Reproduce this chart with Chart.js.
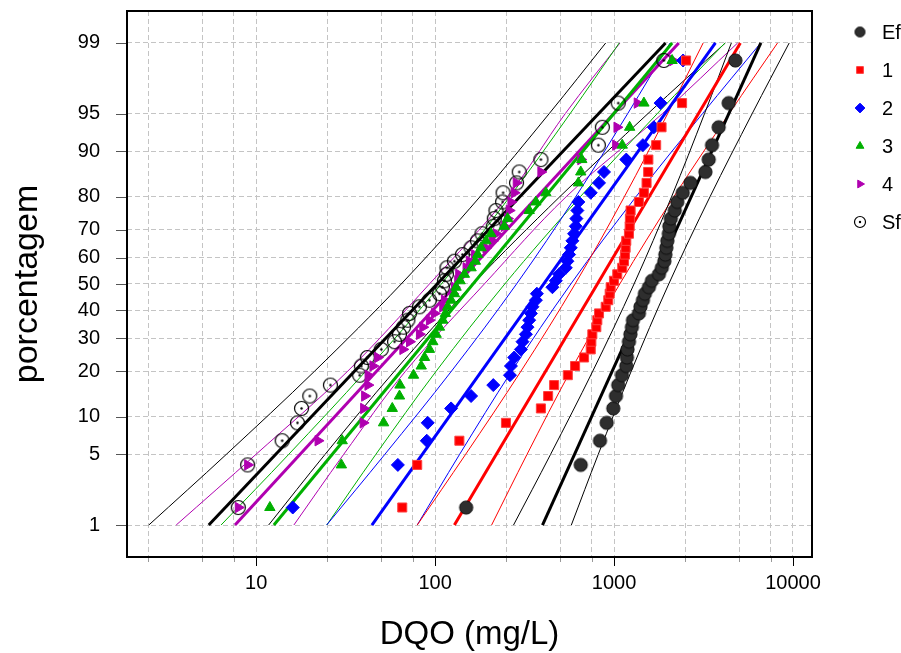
<!DOCTYPE html>
<html>
<head>
<meta charset="utf-8">
<script src="https://cdn.jsdelivr.net/npm/chart.js@4/dist/chart.umd.min.js"></script>
<style>
html,body{margin:0;padding:0;background:#fff;}
#wrap{width:901px;height:653px;}
</style>
</head>
<body>
<div id="wrap"><canvas id="c" width="901" height="653"></canvas></div>
<script>
// ---------------- data ----------------
const percentages = [1.55,4.04,6.52,9.01,11.49,13.98,16.46,18.94,21.43,23.91,26.40,28.88,31.37,33.85,36.34,38.82,41.30,43.79,46.27,48.76,51.24,53.73,56.21,58.70,61.18,63.66,66.15,68.63,71.12,73.60,76.09,78.57,81.06,83.54,86.02,88.51,90.99,93.48,95.96,98.45];

const seriesEf = [149,651,834,909,990,1025,1055,1107,1170,1180,1188,1211,1234,1258,1275,1377,1404,1449,1487,1565,1627,1780,1849,1910,1934,1959,1985,2023,2036,2076,2185,2256,2422,2673,3240,3381,3527,3843,4370,4762];
const series1 = [65.5,79.4,136.6,248.8,389.9,428.1,462.4,551.4,605.5,679.6,740.7,746.4,756.1,795.9,806.2,823.9,898,928.4,945.2,957.2,998.7,1042,1111,1136,1150,1160,1170,1211,1222,1226,1237,1376,1468,1519,1551,1555,1719,1842,2399,2526];
const series2 = [16.0,61.9,89.8,90.9,122.8,158.8,211.3,261.9,265.2,276.7,301.6,307.8,321.5,328.2,335.4,342.8,349.9,365.6,370.4,452.3,472.5,493.0,537.4,548.5,560.6,573.0,584.8,597.7,610.9,615.6,623.6,631.5,740.7,823.9,878.6,1170,1449,1669,1819,2431];
const series3 = [11.92,29.92,30.23,51.5,57.6,63.2,63.6,75.7,83.6,87.2,92.9,97.0,101.3,105.7,110.3,114.1,117.5,122.8,128.1,130.9,137.9,145.7,158.8,167.8,172.8,180.5,192.4,205.2,243.4,253.9,335.4,365.6,415.7,631.5,651.3,659.8,1111,1222,1468,2110];
const series4 = [7.94,8.96,22.16,39.58,39.84,40.36,42.11,42.2,44.9,47.7,66.0,71.9,81.7,85.3,92.9,99.1,110.3,112.7,125.4,128.1,133.7,135.4,148.9,155.3,165.6,192.4,209.4,218.8,243.4,253.9,259.5,265.2,276.7,283.9,389.9,651.3,1021,1038,1347,2130];
const seriesSf = [7.94,8.96,13.96,17.01,17.91,19.92,25.98,37.84,38.68,41.78,50.0,59.3,63.2,66.6,70.4,71.9,81.7,92.9,105.7,109.8,112.7,115.6,116.4,128.1,142.0,158.8,172.2,182.8,211.3,214.1,218.8,238.2,239.7,285.0,295.1,389.9,816.6,859.6,1055,1897];

// fitted lines (value at 1 % and 99 %)
const fitPercent = [1, 99];
const fitEf = [398, 6614];
const fit1 = [128.1, 5078];
const fit2 = [44.3, 3685];
const fit3 = [12.55, 2111];
const fit4 = [7.61, 2300];
const fitSf = [5.43, 1940];

// confidence bands
const bandPercent = [1, 5, 20, 50, 80, 95, 99];
const bandEfLow  = [274.2, 441.5, 759.9, 1293, 2095, 3204, 4523];
const bandEfHigh = [577, 815.6, 1247, 2021, 3437, 5916, 9524];
const band1Low   = [79.4, 147.9, 301.6, 605.5, 1141, 1994, 3147];
const band1High  = [206.8, 326.1, 570.1, 1076, 2157, 4398, 8197];
const band2Low   = [24.75, 52.3, 123.3, 285.0, 610.1, 1192, 2057];
const band2High  = [79.4, 136.9, 267.6, 573.0, 1325, 3122, 6598];
const band3Low   = [6.36, 15.18, 40.93, 108.3, 261.5, 568.5, 1069];
const band3High  = [24.78, 46.6, 101.3, 245.0, 647.1, 1745, 4167];
const band4Low   = [3.57, 9.96, 32.44, 92.9, 252.9, 533.9, 1079];
const band4High  = [16.23, 30.8, 68.3, 188.3, 539.5, 1863, 4904];
const bandSfLow  = [2.51, 6.80, 21.19, 64.6, 178.0, 434.2, 898];
const bandSfHigh = [11.73, 24.24, 59.2, 162.8, 496.9, 1547, 4189];

const yTickValues = [1,5,10,20,30,40,50,60,70,80,90,95,99];
const xGridValues = [2.5,5,7.5,10,25,50,75,100,250,500,750,1000,2500,5000,7500,10000];
const xLabelValues = [10,100,1000,10000];
const legendNames = ['Ef','1','2','3','4','Sf'];

// ---------------- probability (normal) scale ----------------
function probit(p){
  const a=[-3.969683028665376e+01,2.209460984245205e+02,-2.759285104469687e+02,1.383577518672690e+02,-3.066479806614716e+01,2.506628277386502e+00];
  const b=[-5.447609879822406e+01,1.615858368580409e+02,-1.556989798598866e+02,6.680131188771972e+01,-1.328068155288572e+01];
  const c=[-7.784894002430293e-03,-3.223964580411365e-01,-2.400758277161838e+00,-2.549732539343734e+00,4.374664141464968e+00,2.938163982698783e+00];
  const d=[7.784695709041462e-03,3.224671290700398e-01,2.445134137142996e+00,3.754408661907416e+00];
  const pl=0.02425, ph=1-pl; let q,r;
  if(p<=0) return -8; if(p>=1) return 8;
  if(p<pl){q=Math.sqrt(-2*Math.log(p));return (((((c[0]*q+c[1])*q+c[2])*q+c[3])*q+c[4])*q+c[5])/((((d[0]*q+d[1])*q+d[2])*q+d[3])*q+1);}
  if(p<=ph){q=p-0.5;r=q*q;return (((((a[0]*r+a[1])*r+a[2])*r+a[3])*r+a[4])*r+a[5])*q/(((((b[0]*r+b[1])*r+b[2])*r+b[3])*r+b[4])*r+1);}
  q=Math.sqrt(-2*Math.log(1-p));return -(((((c[0]*q+c[1])*q+c[2])*q+c[3])*q+c[4])*q+c[5])/((((d[0]*q+d[1])*q+d[2])*q+d[3])*q+1);
}
function ncdf(z){
  const t=1/(1+0.3275911*Math.abs(z)/Math.SQRT2);
  const y=1-(((((1.061405429*t-1.453152027)*t)+1.421413741)*t-0.284496736)*t+0.254829592)*t*Math.exp(-z*z/2);
  return 0.5*(1+(z>=0?y:-y));
}
class ProbitScale extends Chart.LinearScale {
  configure(){
    super.configure();
    this._z0 = probit(this.min/100);
    this._z1 = probit(this.max/100);
  }
  getPixelForValue(v){
    return this.getPixelForDecimal((probit(v/100)-this._z0)/(this._z1-this._z0));
  }
  getValueForPixel(px){
    const dec=this.getDecimalForPixel(px);
    return 100*ncdf(this._z0+dec*(this._z1-this._z0));
  }
  buildTicks(){
    return (this.options.tickValues||[]).map(v=>({value:v}));
  }
}
ProbitScale.id='probit';
ProbitScale.defaults={ticks:{callback:(v)=>String(v)}};
Chart.register(ProbitScale);

// ---------------- markers ----------------
function makeCanvas(size, draw){
  const cv=document.createElement('canvas'); cv.width=size; cv.height=size;
  const g=cv.getContext('2d'); draw(g,size/2); return cv;
}
function efMarker(r){
  return makeCanvas(Math.ceil(r*2+3),(g,c)=>{
    g.beginPath(); g.arc(c,c,r,0,Math.PI*2); g.fillStyle='#2e2e2e'; g.fill();
    g.lineWidth=1; g.strokeStyle='#111'; g.stroke();
  });
}
function sfMarker(r){
  return makeCanvas(Math.ceil(r*2+3),(g,c)=>{
    g.beginPath(); g.arc(c,c,r,0,Math.PI*2); g.lineWidth=1.2; g.strokeStyle='#000'; g.stroke();
    g.beginPath(); g.arc(c,c,1.2,0,Math.PI*2); g.fillStyle='#000'; g.fill();
  });
}
const EF_PT=efMarker(6.6), SF_PT=sfMarker(7);

const COLORS={Ef:'#000000',s1:'#ff0000',s2:'#0000ff',s3:'#00b000',s4:'#b000b0',Sf:'#000000'};

function pts(xs, ps){ return ps.map((p,i)=>({x:xs[i], y:p})); }

const pointSets=[
  {label:'Ef', data:pts(seriesEf,percentages), pointStyle:EF_PT, pointRadius:6, backgroundColor:'#333', borderColor:'#111'},
  {label:'1', data:pts(series1,percentages), pointStyle:'rect', pointRadius:6.4, backgroundColor:'#ff0000', borderColor:'#ff4040', borderWidth:1},
  {label:'2', data:pts(series2,percentages), pointStyle:'rectRot', pointRadius:6.5, backgroundColor:'#0000ff', borderColor:'#0000ff', borderWidth:1},
  {label:'3', data:pts(series3,percentages), pointStyle:'triangle', pointRadius:6, backgroundColor:'#00b000', borderColor:'#00b000', borderWidth:1},
  {label:'4', data:pts(series4,percentages), pointStyle:'triangle', rotation:90, pointRadius:6, backgroundColor:'#b000b0', borderColor:'#b000b0', borderWidth:1},
  {label:'Sf', data:pts(seriesSf,percentages), pointStyle:SF_PT, pointRadius:7, backgroundColor:'#fff', borderColor:'#000'}
].map(d=>Object.assign({showLine:false, order:0, pointHoverRadius:d.pointRadius}, d));

function lineSet(label, xs, ps, color, width, tension){
  return {label, data:pts(xs,ps), showLine:true, pointRadius:0, pointHoverRadius:0, borderColor:color, backgroundColor:color, borderWidth:width, tension:tension, fill:false, order:1};
}
const lineSets=[
  lineSet('fitEf',fitEf,fitPercent,COLORS.Ef,3,0),
  lineSet('fit1',fit1,fitPercent,COLORS.s1,3,0),
  lineSet('fit2',fit2,fitPercent,COLORS.s2,3,0),
  lineSet('fit3',fit3,fitPercent,COLORS.s3,3,0),
  lineSet('fit4',fit4,fitPercent,COLORS.s4,3,0),
  lineSet('fitSf',fitSf,fitPercent,COLORS.Sf,3,0),
  lineSet('bEfL',bandEfLow,bandPercent,COLORS.Ef,1,0.35),
  lineSet('bEfH',bandEfHigh,bandPercent,COLORS.Ef,1,0.35),
  lineSet('b1L',band1Low,bandPercent,COLORS.s1,1,0.35),
  lineSet('b1H',band1High,bandPercent,COLORS.s1,1,0.35),
  lineSet('b2L',band2Low,bandPercent,COLORS.s2,1,0.35),
  lineSet('b2H',band2High,bandPercent,COLORS.s2,1,0.35),
  lineSet('b3L',band3Low,bandPercent,COLORS.s3,1,0.35),
  lineSet('b3H',band3High,bandPercent,COLORS.s3,1,0.35),
  lineSet('b4L',band4Low,bandPercent,COLORS.s4,1,0.35),
  lineSet('b4H',band4High,bandPercent,COLORS.s4,1,0.35),
  lineSet('bSfL',bandSfLow,bandPercent,COLORS.Sf,1,0.35),
  lineSet('bSfH',bandSfHigh,bandPercent,COLORS.Sf,1,0.35)
];

const FONT="'Liberation Sans', Arial, Helvetica, sans-serif";

// frame, axis ticks and legend
const decorPlugin={
  id:'decor',
  afterDatasetsDraw(chart){
    const {ctx, chartArea:a, scales:{x,y}}=chart;
    ctx.save();
    ctx.lineWidth=1;
    xGridValues.forEach(v=>{
      const px=Math.round(x.getPixelForValue(v))+0.5;
      const major=xLabelValues.includes(v);
      ctx.strokeStyle=major?'#000':'#999';
      ctx.beginPath(); ctx.moveTo(px,a.bottom); ctx.lineTo(px,a.bottom+(major?9:5)); ctx.stroke();
    });
    yTickValues.forEach(v=>{
      const py=Math.round(y.getPixelForValue(v))+0.5;
      ctx.strokeStyle='#555';
      ctx.beginPath(); ctx.moveTo(a.left-11,py); ctx.lineTo(a.left,py); ctx.stroke();
    });
    ctx.strokeStyle='#000'; ctx.lineWidth=2;
    ctx.strokeRect(a.left,a.top,a.right-a.left,a.bottom-a.top);
    ctx.restore();
  },
  afterDraw(chart){
    const ctx=chart.ctx;
    ctx.save();
    const ys=[32,70,108,146,184,222];
    ctx.font='20px '+FONT; ctx.textBaseline='middle'; ctx.textAlign='left';
    pointSets.forEach((ds,i)=>{
      const yy=ys[i];
      const opts={pointStyle:ds.pointStyle, rotation:ds.rotation||0, radius:ds.pointRadius*0.75, borderWidth:ds.borderWidth||1};
      if(ds.pointStyle===EF_PT){ opts.pointStyle=efMarker(5); }
      if(ds.pointStyle===SF_PT){ opts.pointStyle=sfMarker(5.5); }
      ctx.fillStyle=ds.backgroundColor; ctx.strokeStyle=ds.borderColor; ctx.lineWidth=1;
      Chart.helpers.drawPoint(ctx, opts, 860, yy);
      ctx.fillStyle='#000';
      ctx.fillText(legendNames[i], 882, yy+1);
    });
    ctx.restore();
  }
};

new Chart(document.getElementById('c'),{
  type:'scatter',
  data:{datasets:[...pointSets,...lineSets]},
  plugins:[decorPlugin],
  options:{
    responsive:false, animation:false, devicePixelRatio:1,
    events:[],
    layout:{padding:{left:0,right:89,top:11,bottom:0}},
    plugins:{legend:{display:false}, tooltip:{enabled:false}},
    scales:{
      x:{
        type:'logarithmic', min:1.896, max:12770, bounds:'data',
        afterBuildTicks(s){ s.ticks=xGridValues.map(v=>({value:v})); },
        afterFit(s){ s.height=96; s.paddingLeft=0; s.paddingRight=0; },
        ticks:{autoSkip:false, maxRotation:0, padding:14, color:'#000', font:{family:FONT,size:20},
          callback:(v)=> xLabelValues.includes(v)? String(v):''},
        grid:{color:'#c4c4c4', lineWidth:1, drawTicks:false},
        border:{display:false, dash:[5,3]},
        title:{display:true, text:'DQO (mg/L)', color:'#000', font:{family:FONT,size:33,lineHeight:1}, padding:{top:0,bottom:2}}
      },
      y:{
        type:'probit', min:0.421, max:99.579, tickValues:yTickValues,
        afterFit(s){ s.width=127; s.paddingTop=0; s.paddingBottom=0; },
        ticks:{autoSkip:false, padding:27, color:'#000', font:{family:FONT,size:20}, callback:(v)=>String(v)},
        grid:{color:'#c4c4c4', lineWidth:1, drawTicks:false},
        border:{display:false, dash:[5,3]},
        title:{display:true, text:'porcentagem', color:'#000', font:{family:FONT,size:34,lineHeight:1}, padding:{top:11,bottom:0}}
      }
    }
  }
});
</script>
</body>
</html>
